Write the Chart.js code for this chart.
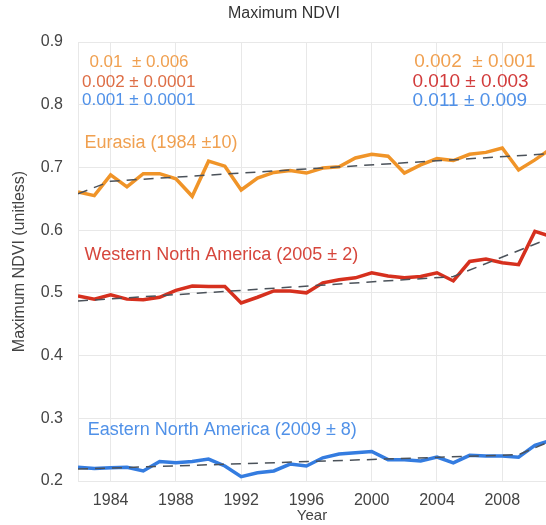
<!DOCTYPE html>
<html>
<head>
<meta charset="utf-8">
<script src="https://cdn.jsdelivr.net/npm/chart.js@4"></script>
<style>
  html, body { margin: 0; padding: 0; background: #fff; }
  #wrap { width: 546px; height: 525px; }
</style>
</head>
<body>
<div id="wrap"><canvas id="c" width="546" height="525"></canvas></div>
<script>
const years = [1982,1983,1984,1985,1986,1987,1988,1989,1990,1991,1992,1993,1994,1995,1996,1997,1998,1999,2000,2001,2002,2003,2004,2005,2006,2007,2008,2009,2010,2011];
const eurasia = [0.661,0.655,0.688,0.669,0.690,0.690,0.682,0.654,0.710,0.702,0.664,0.683,0.692,0.695,0.691,0.699,0.701,0.715,0.721,0.718,0.691,0.704,0.714,0.711,0.721,0.724,0.731,0.696,0.712,0.730];
const westNA = [0.495,0.490,0.497,0.490,0.489,0.493,0.504,0.511,0.510,0.510,0.484,0.493,0.503,0.503,0.500,0.516,0.521,0.524,0.532,0.527,0.524,0.526,0.532,0.519,0.550,0.554,0.548,0.545,0.598,0.590];
const eastNA = [0.222,0.220,0.221,0.222,0.216,0.231,0.229,0.231,0.235,0.224,0.207,0.213,0.216,0.227,0.224,0.237,0.243,0.245,0.247,0.234,0.234,0.232,0.238,0.229,0.241,0.240,0.240,0.238,0.257,0.265];

const eurasiaTrendYears = [1982,1984,2011];
const eurasiaTrend = [0.658,0.678,0.722];
const westTrendYears = [1982,2005,2011];
const westTrend = [0.487,0.526,0.588];
const eastTrendYears = [1982,2009,2011];
const eastTrend = [0.219,0.242,0.264];

const xTicks = [1984,1988,1992,1996,2000,2004,2008];
const yTicks = [0.2,0.3,0.4,0.5,0.6,0.7,0.8,0.9];

const seriesLabels = ["Eurasia (1984 \u00b110)", "Western North America (2005 \u00b1 2)", "Eastern North America (2009 \u00b1 8)"];
const leftRates = ["0.01  \u00b1 0.006", "0.002 \u00b1 0.0001", "0.001 \u00b1 0.0001"];
const rightRates = ["0.002  \u00b1 0.001", "0.010 \u00b1 0.003", "0.011 \u00b1 0.009"];

const ORANGE = 'rgb(240,148,40)';
const RED = 'rgb(214,48,30)';
const BLUE = 'rgb(52,124,224)';
const DASH = 'rgb(75,82,90)';
const FONT = '"Liberation Sans", Arial, sans-serif';

const pts = (xs, ys) => xs.map((x, i) => ({x: x, y: ys[i]}));

const textPlugin = {
  id: 'texts',
  afterDatasetsDraw(chart) {
    const ctx = chart.ctx, xs = chart.scales.x, ys = chart.scales.y;
    ctx.save();
    ctx.textBaseline = 'middle';
    ctx.font = '18px ' + FONT;
    const lab = [
      {t: seriesLabels[0], x: 1982.4, y: 0.739, c: 'rgb(240,160,80)'},
      {t: seriesLabels[1], x: 1982.4, y: 0.560, c: 'rgb(214,70,60)'},
      {t: seriesLabels[2], x: 1982.6, y: 0.281, c: 'rgb(80,145,232)'}
    ];
    ctx.textAlign = 'left';
    lab.forEach(l => { ctx.fillStyle = l.c; ctx.fillText(l.t, xs.getPixelForValue(l.x), ys.getPixelForValue(l.y)); });
    const rc = ['rgb(240,160,80)', 'rgb(222,110,70)', 'rgb(80,145,232)'];
    const rcR = ['rgb(240,160,80)', 'rgb(210,60,60)', 'rgb(80,145,232)'];
    const ry = [0.868, 0.836, 0.807];
    ctx.font = '17px ' + FONT;
    leftRates.forEach((t, i) => { ctx.fillStyle = rc[i]; ctx.fillText(t, xs.getPixelForValue(i === 0 ? 1982.7 : 1982.25), ys.getPixelForValue(ry[i])); });
    ctx.font = '19px ' + FONT;
    rightRates.forEach((t, i) => { ctx.fillStyle = rcR[i]; ctx.fillText(t, xs.getPixelForValue(i === 0 ? 2002.6 : 2002.5), ys.getPixelForValue(ry[i])); });
    ctx.restore();
    ctx.save();
    ctx.font = '16px ' + FONT;
    ctx.fillStyle = '#333';
    ctx.textAlign = 'center';
    ctx.textBaseline = 'middle';
    ctx.fillText('Maximum NDVI', 284, 14);
    ctx.restore();
  }
};

const line = (data, color) => ({data, borderColor: color, borderWidth: 3.5, pointRadius: 0, tension: 0, fill: false, order: 2});
const trend = (data) => ({data, borderColor: DASH, borderWidth: 1.5, borderDash: [10, 7], pointRadius: 0, tension: 0, fill: false, order: 1});

new Chart(document.getElementById('c'), {
  type: 'line',
  data: {
    datasets: [
      trend(pts(eurasiaTrendYears, eurasiaTrend)),
      trend(pts(westTrendYears, westTrend)),
      trend(pts(eastTrendYears, eastTrend)),
      line(pts(years, eurasia), ORANGE),
      line(pts(years, westNA), RED),
      line(pts(years, eastNA), BLUE)
    ]
  },
  options: {
    responsive: false,
    animation: false,
    layout: { padding: { top: 42, right: 0, left: 0, bottom: 0 } },
    plugins: { legend: { display: false }, tooltip: { enabled: false }, title: { display: false } },
    scales: {
      x: {
        type: 'linear',
        min: 1982, max: 2010.68,
        afterBuildTicks: s => { s.ticks = xTicks.map(v => ({value: v})); },
        afterFit: s => { s.height = 44; },
        grid: { color: 'rgb(232,232,232)', drawTicks: false },
        border: { display: true, color: 'rgb(232,232,232)' },
        ticks: { padding: 10, color: '#444', font: { size: 16, family: FONT }, callback: v => String(v), maxRotation: 0 },
        title: { display: true, text: 'Year', color: '#444', padding: 0, font: { size: 15, family: FONT } }
      },
      y: {
        min: 0.2, max: 0.9,
        afterBuildTicks: s => { s.ticks = yTicks.map(v => ({value: v})); },
        afterFit: s => { s.width = 78; },
        grid: { color: 'rgb(232,232,232)', drawTicks: false },
        border: { display: true, color: 'rgb(232,232,232)' },
        ticks: { padding: 15, color: '#444', font: { size: 16, family: FONT }, callback: v => v.toFixed(1) },
        title: { display: true, text: 'Maximum NDVI (unitless)', color: '#444', padding: { top: 10, bottom: 0 }, font: { size: 16, family: FONT } }
      }
    }
  },
  plugins: [textPlugin]
});
</script>
</body>
</html>
